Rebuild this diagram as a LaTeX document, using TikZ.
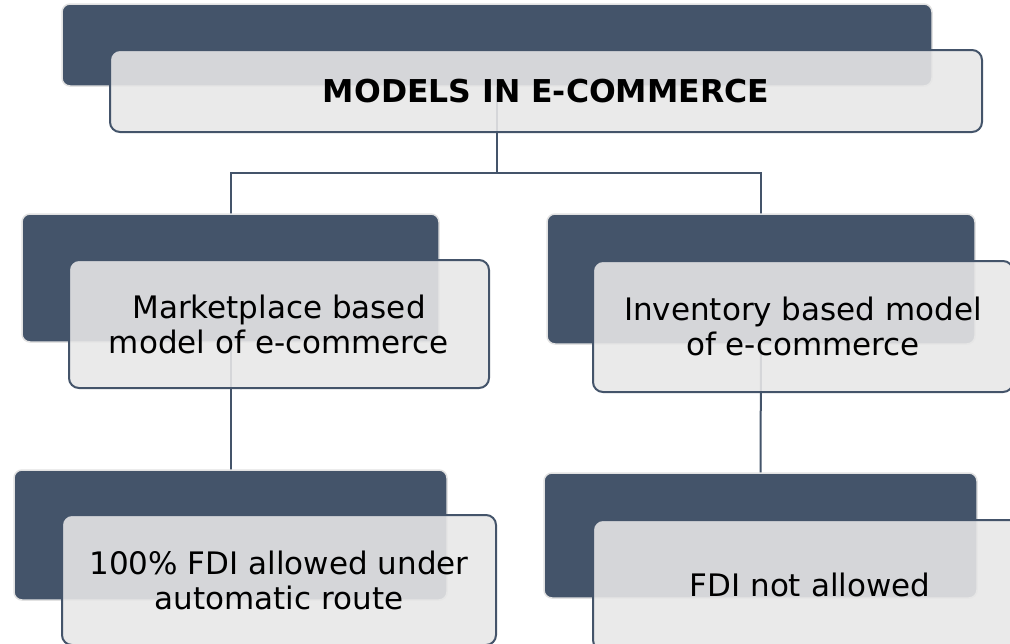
\documentclass[tikz,border=0pt]{standalone}
\usepackage{fontspec}
\setmainfont{DejaVu Sans}
\usetikzlibrary{backgrounds}
\definecolor{slate}{HTML}{44546A}
\definecolor{paleedge}{HTML}{E2E2E2}
\definecolor{cardfill}{HTML}{E7E7E7}
\tikzset{
  backcard/.style={draw=paleedge, line width=1.5pt, fill=slate,
    rounded corners=8pt, inner sep=0pt},
  frontcard/.style={draw=slate, line width=2pt, fill=cardfill,
    fill opacity=0.89, text opacity=1, rounded corners=10pt,
    inner sep=0pt, align=center, font=\fontsize{31}{35}\selectfont},
  link/.style={draw=slate, line width=2pt}
}
\begin{document}
\begin{tikzpicture}[x=1pt, y=-1pt]
  \useasboundingbox (0,0) rectangle (1010,643);
  \clip (0,0) rectangle (1010,643);

  % root
  \node[backcard, minimum width=870, minimum height=82] (topback) at (497,45) {};
  \node[frontcard, minimum width=872, minimum height=82,
        font=\fontsize{31.5}{35}\selectfont\bfseries] (topfront) at (546,91) {MODELS IN E-COMMERCE};

  % second level
  \node[backcard, minimum width=417, minimum height=128] (mlback) at (230.5,278) {};
  \node[frontcard, minimum width=420, minimum height=128] (mlfront) at (279,324)
       {Marketplace based\\model of e-commerce};

  \node[backcard, minimum width=428, minimum height=130] (mrback) at (761,279) {};
  \node[frontcard, minimum width=420, minimum height=131] (mrfront) at (803,326.5)
       {Inventory based model\\of e-commerce};

  % third level
  \node[backcard, minimum width=433, minimum height=130] (blback) at (230.5,535) {};
  \node[frontcard, minimum width=434, minimum height=130] (blfront) at (279,580)
       {100\% FDI allowed under\\automatic route};

  \node[backcard, minimum width=433, minimum height=125] (brback) at (760.5,535.5) {};
  \node[frontcard, minimum width=434, minimum height=130] (brfront) at (810,585)
       {FDI not allowed};

  % connectors behind the cards
  \coordinate (fork) at (499,173);
  \begin{scope}[on background layer]
    \draw[link] (topback.center) -- (topback.center |- fork) -| (mlback.center);
    \draw[link] (topback.center |- fork) -| (mrback.center);
    \draw[link] (mlback.center) -- (blback.center);
    \draw[link] (mrback.center) -- (brback.center);
  \end{scope}
\end{tikzpicture}
\end{document}
